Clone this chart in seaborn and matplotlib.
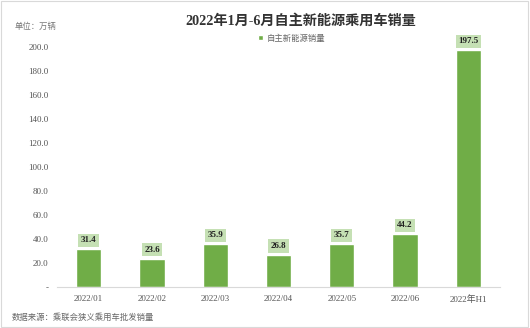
import matplotlib
matplotlib.use("Agg")
import matplotlib.pyplot as plt
import seaborn as sns
import pandas as pd

categories = ["2022/01", "2022/02", "2022/03", "2022/04", "2022/05", "2022/06", "2022年H1"]
sales = [31.4, 23.6, 35.9, 26.8, 35.7, 44.2, 197.5]
y_ticks = [0, 20, 40, 60, 80, 100, 120, 140, 160, 180, 200]
y_tick_labels = ["-"] + [f"{v:.1f}" for v in y_ticks[1:]]

sns.set_theme(style="white")
plt.rcParams["font.family"] = ["Liberation Serif", "Noto Sans CJK SC", "DejaVu Sans"]
cjk = ["Noto Sans CJK SC", "DejaVu Sans"]

df = pd.DataFrame({"月份": categories, "销量": sales})

fig = plt.figure(figsize=(5.30, 3.28), dpi=100)
ax = fig.add_axes([57 / 530, 1 - 287 / 328, 443 / 530, 252 / 328])

bar_color = "#70ad47"
sns.barplot(data=df, x="月份", y="销量", color=bar_color, width=0.4,
            saturation=1, ax=ax, label="自主新能源销量")

ax.set_ylim(0, 210)
ax.set_yticks(y_ticks)
ax.set_yticklabels(y_tick_labels, fontsize=6.5, color="#555555")
ax.set_xticks(range(len(categories)))
ax.set_xticklabels(categories, fontsize=6.5, color="#555555", family=["Liberation Serif", "Noto Sans CJK SC"])
ax.set_xlabel("")
ax.set_ylabel("")
ax.tick_params(axis="both", length=0, pad=6)
for s in ["top", "right", "left"]:
    ax.spines[s].set_visible(False)
ax.spines["bottom"].set_color("#d9d9d9")
ax.spines["bottom"].set_linewidth(0.8)

for i, v in enumerate(sales):
    ax.annotate(f"{v:.1f}", (i, v), xytext=(0, 3.5), textcoords="offset points",
                ha="center", va="bottom", fontsize=6.5, fontweight="bold", color="#222222",
                bbox=dict(boxstyle="square,pad=0.28", fc="#c5e0b4", ec="none"))

leg = ax.legend(loc="upper center", bbox_to_anchor=(0.53, 1.035), frameon=False,
                fontsize=6, handlelength=0.6, handleheight=0.6, handletextpad=0.4,
                prop={"family": cjk, "size": 6})
for t in leg.get_texts():
    t.set_color("#666666")

fig.text(0.568, 0.935, "2022年1月-6月自主新能源乘用车销量", ha="center", va="center",
         fontsize=10.2, fontweight="bold", color="#333333", family=["Liberation Serif", "Noto Sans CJK SC"])
fig.text(15 / 530, 1 - 26 / 328, "单位：万辆", ha="left", va="center",
         fontsize=6, color="#777777", family=cjk)
fig.text(12 / 530, 1 - 317 / 328, "数据来源：乘联会狭义乘用车批发销量", ha="left", va="center",
         fontsize=6, color="#666666", family=cjk)

fig.patches.append(plt.Rectangle((0.002, 0.003), 0.995, 0.994, transform=fig.transFigure,
                                 fill=False, ec="#d9d9d9", lw=0.8))

fig.savefig("out.png", dpi=100)
